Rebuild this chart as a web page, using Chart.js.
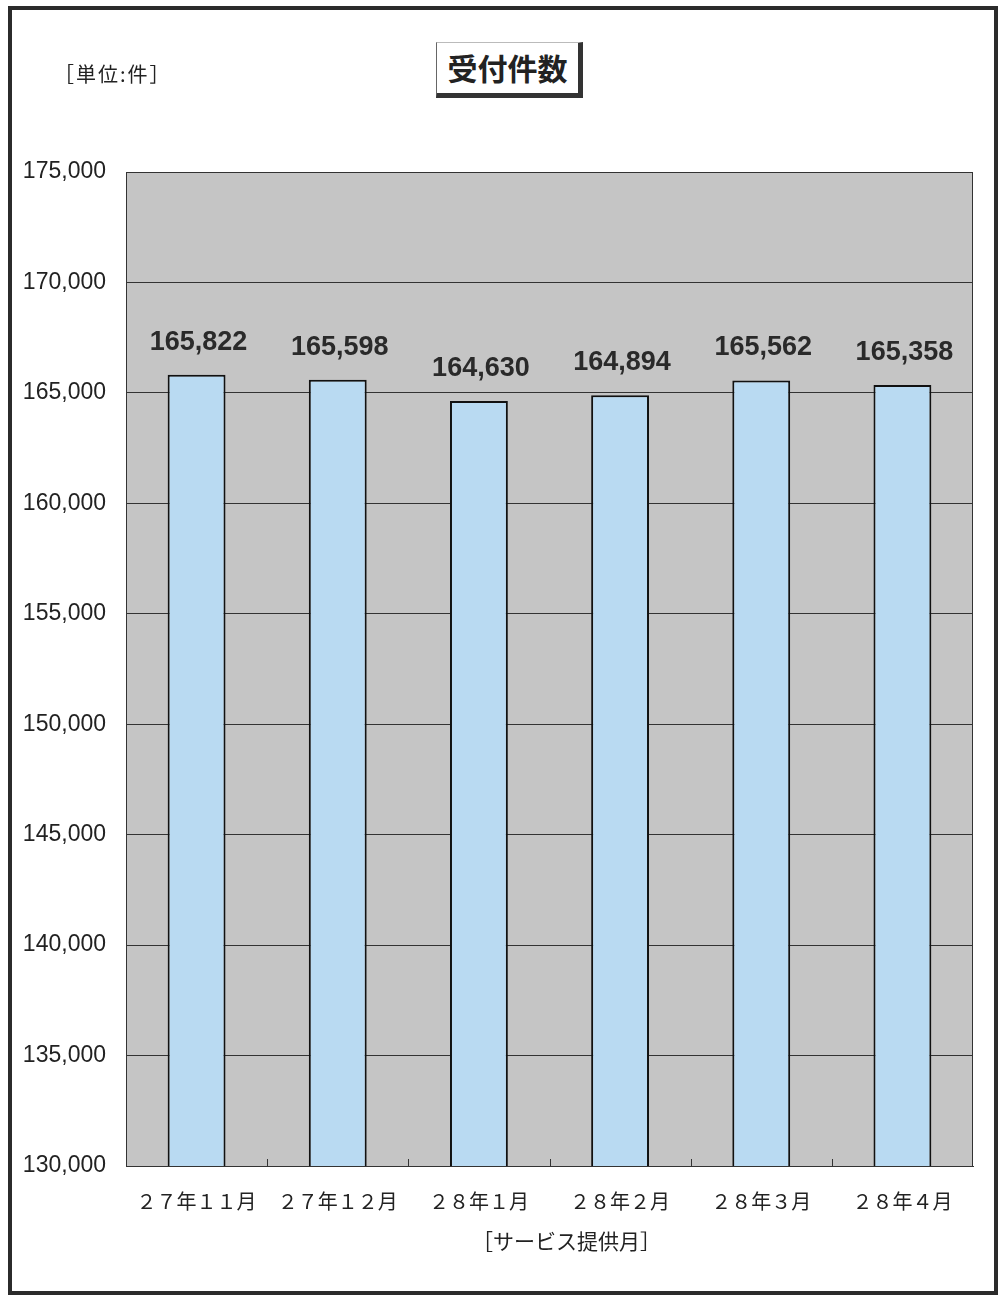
<!DOCTYPE html>
<html>
<head>
<meta charset="utf-8">
<script src="https://cdn.jsdelivr.net/npm/chart.js@4/dist/chart.umd.min.js"></script>
<style>
  body { margin: 0; background: #fff; }
  #wrap { position: relative; width: 999px; height: 1296px; overflow: hidden; }
  #frame { position: absolute; left: 8px; top: 6px; width: 982px; height: 1281px; border: 4px solid #2b2b2b; }
  canvas { position: absolute; left: 0; top: 0; }
  .txt { position: absolute; font-family: "Noto Sans CJK JP", sans-serif; color: #222; white-space: nowrap; }
  #unit { left: 54px; top: 59px; font-size: 20px; letter-spacing: 2px; }
  #title { left: 436px; top: 42px; width: 141px; height: 50px; border-left: 1px solid #666; border-top: 1px solid #bbb;
           border-right: 5px solid #333; border-bottom: 5px solid #333; font-size: 30px; font-weight: 600;
           text-align: center; line-height: 48px; background: #fff; }
  #xtitle { left: 472px; top: 1225px; font-size: 21px; }
</style>
</head>
<body>
<div id="wrap">
  <div id="frame"></div>
  <canvas id="chart" width="999" height="1296"></canvas>
  <div class="txt" id="unit">［単位:件］</div>
  <div class="txt" id="title">受付件数</div>
  <div class="txt" id="xtitle">［サービス提供月］</div>
</div>
<script>
const categories = ['２７年１１月', '２７年１２月', '２８年１月', '２８年２月', '２８年３月', '２８年４月'];
const counts = [165822, 165598, 164630, 164894, 165562, 165358];
const yMin = 130000;
const yMax = 175000;
const yStep = 5000;

function fmt(v) {
  return v.toLocaleString('en-US');
}

// grey plot area with a dark border
const plotBg = {
  id: 'plotBg',
  beforeDraw(chart) {
    const a = chart.chartArea, ctx = chart.ctx;
    ctx.save();
    ctx.fillStyle = '#c5c5c5';
    ctx.fillRect(a.left, a.top, a.right - a.left, a.bottom - a.top);
    ctx.restore();
  },
  afterDraw(chart) {
    const a = chart.chartArea, ctx = chart.ctx;
    const x = chart.scales.x;
    ctx.save();
    ctx.strokeStyle = '#333';
    ctx.lineWidth = 1;
    ctx.strokeRect(a.left + 0.5, a.top + 0.5, a.right - a.left - 1, a.bottom - a.top);
    // small tick marks between categories
    for (let i = 1; i < categories.length; i++) {
      const px = Math.round((x.getPixelForValue(i - 1) + x.getPixelForValue(i)) / 2) + 0.5;
      ctx.beginPath();
      ctx.moveTo(px, a.bottom);
      ctx.lineTo(px, a.bottom - 7);
      ctx.stroke();
    }
    ctx.restore();
  }
};

// value labels above bars
const valueLabels = {
  id: 'valueLabels',
  afterDatasetsDraw(chart) {
    const ctx = chart.ctx;
    const meta = chart.getDatasetMeta(0);
    ctx.save();
    ctx.font = 'bold 27px "Liberation Sans", Arial, sans-serif';
    ctx.fillStyle = '#2a2a2a';
    ctx.textAlign = 'center';
    ctx.textBaseline = 'bottom';
    meta.data.forEach((bar, i) => {
      ctx.fillText(fmt(counts[i]), bar.x + 2, bar.y - 19);
    });
    ctx.restore();
  }
};

new Chart(document.getElementById('chart'), {
  type: 'bar',
  data: {
    labels: categories,
    datasets: [{
      data: counts,
      backgroundColor: '#b9daf2',
      borderColor: '#111',
      borderWidth: 2,
      borderSkipped: false,
      barPercentage: 0.41,
      categoryPercentage: 1
    }]
  },
  options: {
    responsive: false,
    animation: false,
    layout: { padding: { left: 0, top: 172, right: 26, bottom: 80 } },
    plugins: {
      legend: { display: false },
      tooltip: { enabled: false }
    },
    scales: {
      x: {
        grid: { display: false },
        border: { display: true, color: '#333', width: 1 },
        ticks: {
          color: '#222',
          padding: 15,
          font: { family: '"Noto Sans CJK JP"', size: 20 }
        },
        afterFit(scale) { scale.height = 50; }
      },
      y: {
        min: yMin,
        max: yMax,
        grid: { color: '#333', lineWidth: 1, drawTicks: false },
        border: { display: true, color: '#333', width: 1 },
        ticks: {
          stepSize: yStep,
          color: '#222',
          padding: 20,
          font: { family: '"Liberation Sans", Arial, sans-serif', size: 23 },
          callback: v => fmt(v)
        },
        afterFit(scale) { scale.width = 126; }
      }
    }
  },
  plugins: [plotBg, valueLabels]
});
</script>
</body>
</html>
